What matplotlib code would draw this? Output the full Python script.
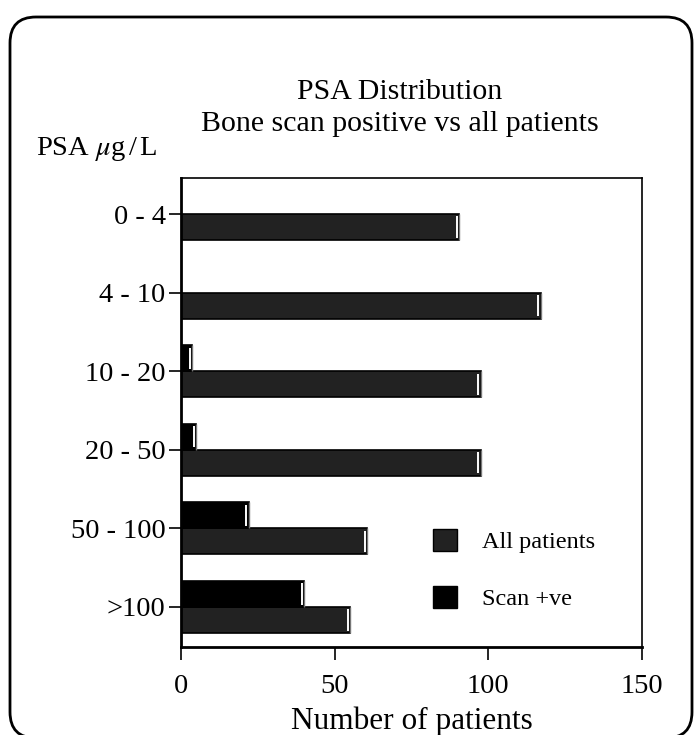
import numpy as np
import matplotlib
matplotlib.use("Agg")
import matplotlib.pyplot as plt
from matplotlib.patches import Patch, FancyBboxPatch
from matplotlib.transforms import IdentityTransform

plt.rcParams['font.family'] = ['Liberation Serif', 'DejaVu Serif']
plt.rcParams['mathtext.fontset'] = 'stix'

# data
categories = ['0 - 4', '4 - 10', '10 - 20', '20 - 50', '50 - 100', '>100']
all_patients = [90.5, 117, 97.5, 97.5, 60.5, 55]
scan_positive = [0, 0, 3.5, 5, 22, 40]

dark = '#222222'
bar_h = 0.33

fig = plt.figure(figsize=(6.96, 7.35), dpi=100)
ax = fig.add_axes([181 / 696, 1 - 647 / 735, 461 / 696, 469 / 735])

pos = np.arange(len(categories))
ax.barh(pos, all_patients, height=bar_h, align='edge', color=dark,
        edgecolor='black', linewidth=1.2)
ax.barh(pos, scan_positive, height=-bar_h, align='edge', color='black',
        edgecolor='black', linewidth=1.2)

# white highlight at the end of each bar
for p, a, s in zip(pos, all_patients, scan_positive):
    ax.vlines(a - 0.7, p + 0.03, p + bar_h - 0.03, color='white', lw=1.4)
    ax.vlines(a, p, p + bar_h, color='#777777', lw=1.0)
    if s > 0:
        ax.vlines(s - 0.7, p - bar_h + 0.03, p - 0.03, color='white', lw=1.4)
        ax.vlines(s, p - bar_h, p, color='#777777', lw=1.0)

ax.set_xlim(0, 150)
ax.set_ylim(5.51, -0.46)
ax.set_xticks([0, 50, 100, 150])
ax.set_yticks(pos)
ax.set_yticklabels(categories)
ax.tick_params(axis='x', direction='out', length=9.5, width=1.2, labelsize=20.5, pad=10)
ax.tick_params(axis='y', direction='out', length=9, width=1.2, labelsize=20.5, pad=2)
ax.spines['left'].set_linewidth(2)
ax.spines['bottom'].set_linewidth(2)
ax.spines['top'].set_linewidth(1.2)
ax.spines['right'].set_linewidth(1.2)
ax.set_xlabel('Number of patients', fontsize=22.5, labelpad=5)

handles = [Patch(facecolor=dark, edgecolor='black', label='All patients'),
           Patch(facecolor='black', edgecolor='black', label='Scan +ve')]
fig.legend(handles=handles, loc='upper left', bbox_to_anchor=(433 / 696, 1 - 529 / 735),
           frameon=False, fontsize=17.5, handlelength=1.0, handleheight=1.0,
           handletextpad=1.0, labelspacing=1.35, borderpad=0, borderaxespad=0)

fig.text(400 / 696, 1 - 92 / 735, 'PSA Distribution', ha='center', va='center', fontsize=21.5)
fig.text(400 / 696, 1 - 124 / 735, 'Bone scan positive vs all patients',
         ha='center', va='center', fontsize=21.5)
fig.text(36 / 696, 1 - 149 / 735, 'PSA $\\mu$g$\\,$/$\\,$L', ha='left', va='center',
         fontsize=20.5)

# rounded outer frame, its bottom edge sits just below the picture
frame = FancyBboxPatch((10, -3), 682, 721, boxstyle='round,pad=0,rounding_size=26',
                       transform=IdentityTransform(), facecolor='none',
                       edgecolor='black', linewidth=2)
fig.patches.append(frame)

fig.savefig('out.png', dpi=100)
